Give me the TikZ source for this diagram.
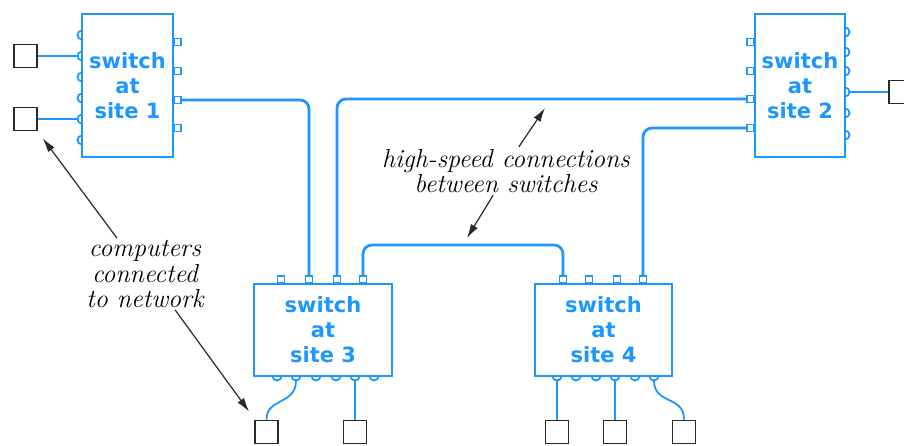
\documentclass[tikz,border=0pt]{standalone}
\usepackage{fontspec}
\newfontfamily\switchfont{DejaVu Sans}
\usetikzlibrary{arrows.meta}
\definecolor{netblue}{RGB}{30,150,255}
\definecolor{inkgray}{RGB}{40,40,40}

\begin{document}
\begin{tikzpicture}[x=1pt, y=-1pt,
  switch/.style={draw=netblue, line width=1.8pt, text=netblue, align=center,
                 font=\switchfont\bfseries\fontsize{21}{25}\selectfont, inner sep=0pt},
  sqport/.style={draw=netblue, line width=1.6pt, minimum size=7pt, inner sep=0pt},
  rdport/.style={draw=netblue, line width=1.8pt},
  wire/.style={draw=netblue, line width=2.8pt, rounded corners=9pt},
  link/.style={draw=netblue, line width=1.8pt},
  comp/.style={draw=inkgray, line width=1.8pt, minimum size=23pt, inner sep=0pt},
  note/.style={align=center, font=\fontsize{26}{25.5}\selectfont\itshape, inner sep=2pt},
  pointer/.style={draw=inkgray, line width=1.2pt, -{Latex[length=14pt,width=8pt]}}
]
  \useasboundingbox (0,0) rectangle (904,445);

  % switches
  \node[switch, minimum width=91pt, minimum height=143pt] (s1) at (127.5,85.5) {switch\\at\\site 1};
  \node[switch, minimum width=90pt, minimum height=143pt] (s2) at (800,85.5) {switch\\at\\site 2};
  \node[switch, minimum width=138pt, minimum height=92pt] (s3) at (323,330) {switch\\at\\site 3};
  \node[switch, minimum width=137pt, minimum height=92pt] (s4) at (603.5,330) {switch\\at\\site 4};

  % ports of site 1
  \foreach \y [count=\i] in {42,71,100,128}
    \node[sqport, anchor=west] (s1r\i) at (173,\y) {};
  \foreach \y [count=\i] in {35,56,77,98,119,140} {
    \draw[rdport] (82,\y+4.5) arc[start angle=90, end angle=270, radius=4.5];
    \coordinate (s1l\i) at (77.5,\y);
  }
  % ports of site 2
  \foreach \y [count=\i] in {42,71,99,128}
    \node[sqport, anchor=east] (s2l\i) at (755,\y) {};
  \foreach \y [count=\i] in {32,52,71,92,113,135} {
    \draw[rdport] (845,\y-4.5) arc[start angle=-90, end angle=90, radius=4.5];
    \coordinate (s2r\i) at (849.5,\y);
  }
  % ports of site 3
  \foreach \x [count=\i] in {281,309,337,363}
    \node[sqport, anchor=south] (s3t\i) at (\x,284) {};
  \foreach \x [count=\i] in {277,296,316,336,355,374} {
    \draw[rdport] (\x-4.5,376) arc[start angle=180, end angle=0, radius=4.5];
    \coordinate (s3b\i) at (\x,380.5);
  }
  % ports of site 4
  \foreach \x [count=\i] in {563,589,617,643}
    \node[sqport, anchor=south] (s4t\i) at (\x,284) {};
  \foreach \x [count=\i] in {557,576,596,615,635,654} {
    \draw[rdport] (\x-4.5,376) arc[start angle=180, end angle=0, radius=4.5];
    \coordinate (s4b\i) at (\x,380.5);
  }

  % computers
  \node[comp] (c1) at (25.5,56) {};
  \node[comp] (c2) at (25.5,119) {};
  \node[comp] (c3) at (900.5,92) {};
  \node[comp] (c4) at (266.5,432) {};
  \node[comp] (c5) at (355,432) {};
  \node[comp] (c6) at (557,432) {};
  \node[comp] (c7) at (615,432) {};
  \node[comp] (c8) at (684,432) {};

  \draw[link] (c1.east) -- (s1l2);
  \draw[link] (c2.east) -- (s1l5);
  \draw[link] (s2r4) -- (c3.west);
  \draw[link] (s3b2) .. controls (296,405) and (266,398) .. (c4.north);
  \draw[link] (s3b5) -- (c5.north);
  \draw[link] (s4b1) -- (c6.north);
  \draw[link] (s4b4) -- (c7.north);
  \draw[link] (s4b6) .. controls (654,405) and (684,395) .. (c8.north);

  % high-speed wires
  \coordinate (hsy) at (0,245);
  \draw[wire] (s1r3.east) -| (s3t2.north);
  \draw[wire] (s2l3.west) -| (s3t3.north);
  \draw[wire] (s2l4.west) -| (s4t4.north);
  \draw[wire] (s3t4.north) -- (s3t4.north |- hsy) -- (s4t1.north |- hsy) -- (s4t1.north);

  % notes
  \node[note] (hsnote) at (506,171) {high-speed connections\\between switches};
  \node[note] (netnote) at (145,274) {computers\\connected\\to network};
  \coordinate (upwire) at (545,108);
  \coordinate (lowire) at (467,238);
  \draw[pointer] (hsnote.62) -- (upwire);
  \draw[pointer] (hsnote.-118) -- (lowire);
  \draw[pointer] (netnote.128) -- ([shift={(5,7)}]c2.south east);
  \draw[pointer] (netnote.-50) -- ([shift={(-5,-8)}]c4.north west);
\end{tikzpicture}
\end{document}
